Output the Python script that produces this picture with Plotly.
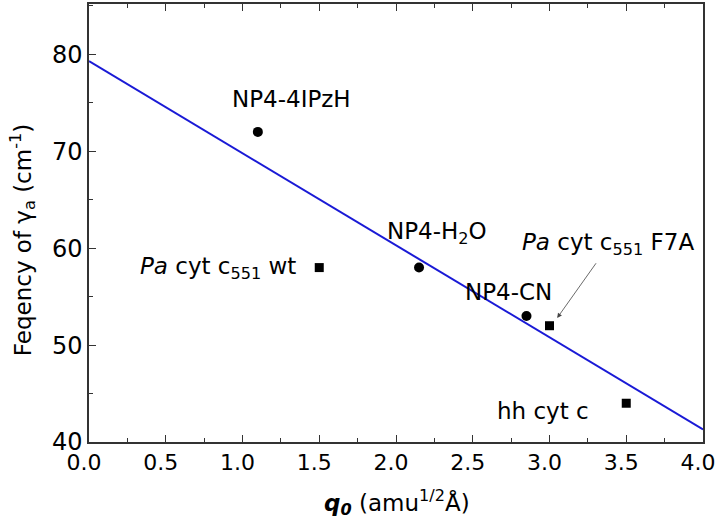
import plotly.graph_objects as go

# Data
circle_x = [1.1, 2.15, 2.85]
circle_y = [72, 58, 53]
square_x = [1.5, 3.0, 3.5]
square_y = [58, 52, 44]
fit_x = [0.0, 4.0]
fit_y = [79.3, 41.3]

labels = ["NP4-4IPzH", "NP4-H<sub>2</sub>O", "NP4-CN",
          "<i>Pa</i> cyt c<sub>551</sub> wt", "<i>Pa</i> cyt c<sub>551</sub> F7A", "hh cyt c"]
label_x = [1.32, 2.27, 2.73, 1.36, 3.38, 2.96]
label_y = [75.4, 61.6, 55.5, 58.0, 60.4, 43.2]
label_anchor = ["center", "center", "center", "right", "center", "center"]

FONT = "DejaVu Sans"
FS = 24

fig = go.Figure()
fig.add_trace(go.Scatter(x=fit_x, y=fit_y, mode="lines",
                         line=dict(color="#1a1ad6", width=2), showlegend=False))
fig.add_trace(go.Scatter(x=circle_x, y=circle_y, mode="markers",
                         marker=dict(symbol="circle", size=10, color="black"), showlegend=False))
fig.add_trace(go.Scatter(x=square_x, y=square_y, mode="markers",
                         marker=dict(symbol="square", size=9, color="black"), showlegend=False))

for lab, lx, ly, anc in zip(labels, label_x, label_y, label_anchor):
    fig.add_annotation(x=lx, y=ly, text=lab, showarrow=False, xanchor=anc, yanchor="middle",
                       font=dict(family=FONT, size=23, color="black"))

# arrow for F7A
fig.add_annotation(x=3.05, y=52.8, ax=3.31, ay=58.6, axref="x", ayref="y",
                   text="", showarrow=True, arrowhead=2, arrowsize=1.2, arrowwidth=0.8,
                   arrowcolor="#444444")

# axis titles
fig.add_annotation(x=-0.109, y=0.461, xref="paper", yref="paper", textangle=-90,
                   text="Feqency of γ<sub>a</sub> (cm<sup>-1</sup>)", showarrow=False,
                   xanchor="center", yanchor="middle",
                   font=dict(family=FONT, size=FS - 1, color="black"))
fig.add_annotation(x=0.5016, y=-0.137, xref="paper", yref="paper",
                   text="<b><i>q<sub>0</sub></i></b> (amu<sup>1/2</sup>Å)", showarrow=False,
                   xanchor="center", yanchor="middle",
                   font=dict(family=FONT, size=FS - 1, color="black"))

fig.update_layout(
    width=717, height=519,
    margin=dict(l=89, r=14, t=4, b=77),
    plot_bgcolor="white", paper_bgcolor="white",
    font=dict(family=FONT, color="black"),
)
fig.update_xaxes(range=[0, 4], dtick=0.5, tickformat=".1f", ticks="inside", ticklen=7,
                 tickcolor="#333", showline=True, linecolor="#333", linewidth=1.5,
                 mirror="ticks", showgrid=False, zeroline=False, automargin=False,
                 ticklabeloverflow="allow", ticklabelshift=-5,
                 minor=dict(dtick=0.25, ticks="inside", ticklen=4, tickcolor="#333"),
                 tickfont=dict(family=FONT, size=FS - 2))
fig.update_yaxes(range=[40, 85.2], dtick=10, ticks="inside", ticklen=7,
                 tickcolor="#333", showline=True, linecolor="#333", linewidth=1.5,
                 mirror=True, showgrid=False, zeroline=False, automargin=False,
                 ticklabeloverflow="allow",
                 minor=dict(dtick=5, ticks="inside", ticklen=4, tickcolor="#333"),
                 tickfont=dict(family=FONT, size=FS))

fig.write_html("out.html", config={"displayModeBar": False},
               post_script="document.body.style.margin='0';document.body.style.overflow='hidden';")
